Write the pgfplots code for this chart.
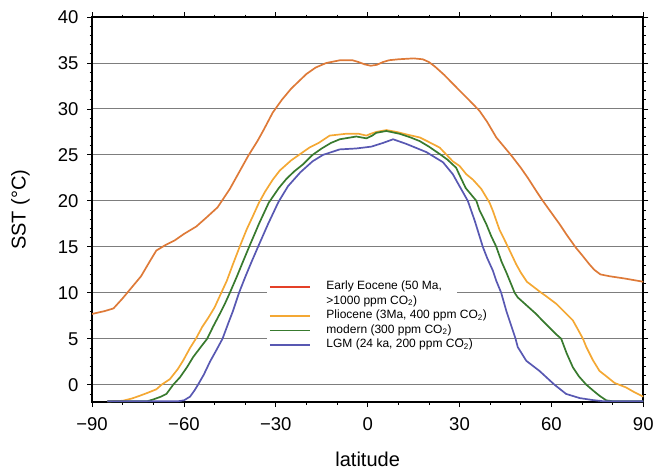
\documentclass[border=0pt]{standalone}
\usepackage{pgfplots}
\pgfplotsset{compat=1.18}
\usepackage{fontspec}
\setmainfont{Liberation Sans}
\definecolor{eoc}{RGB}{222,122,56}
\definecolor{eocleg}{RGB}{228,64,40}
\definecolor{plio}{RGB}{244,168,52}
\definecolor{mod}{RGB}{56,122,46}
\definecolor{lgm}{RGB}{88,88,178}
\definecolor{gridc}{RGB}{125,125,125}

\pgfplotstableread{
lat sst
-90 7.7
-86 8.0
-83 8.3
-80 9.4
-77 10.6
-74 11.8
-71 13.5
-69 14.6
-66 15.2
-63 15.7
-60 16.4
-56 17.2
-52.6 18.2
-49 19.3
-47 20.3
-45 21.3
-43 22.5
-39 24.9
-36 26.5
-34 27.7
-31 29.6
-28 31.0
-25 32.2
-20 33.8
-17 34.5
-13.5 35.0
-9 35.3
-5 35.3
-3 35.1
-1 34.85
1 34.7
3 34.8
5 35.1
7 35.3
10 35.4
15 35.5
18 35.4
20 35.1
22 34.6
25 33.7
30 32.0
33 31.0
36.5 29.8
39 28.6
42 26.9
45 25.7
47 24.9
50 23.6
52.3 22.5
55 21.1
57.2 20.0
60 18.7
62.6 17.5
65 16.3
68 14.9
70 14.1
72.4 13.1
74 12.5
76 12.0
79 11.8
84 11.55
90 11.2
}\eocene

\pgfplotstableread{
lat sst
-85 -1.8
-80 -1.75
-77 -1.5
-74.4 -1.2
-72 -0.9
-69 -0.5
-67.3 0.0
-64.6 0.6
-62 1.7
-60.3 2.6
-58 4.0
-56.1 5.0
-54 6.3
-52 7.3
-50 8.4
-47.8 10.0
-46 11.3
-44 13.1
-41.8 15.0
-39.5 16.9
-37.4 18.4
-35.5 19.8
-33.5 21.0
-31 22.3
-28.7 23.3
-25 24.4
-22 25.1
-19 25.8
-16 26.3
-12.4 27.1
-7 27.3
-3 27.3
-0.4 27.1
1 27.3
2.8 27.5
6.1 27.7
9.4 27.5
13 27.2
17 26.9
20 26.4
23.5 25.8
27.8 24.3
30 23.8
32.2 22.9
34.4 22.3
37.1 21.3
39.8 19.8
40.9 18.9
43 16.9
45.8 15.0
48.5 13.1
50 12.2
52 11.2
56.7 10.0
58 9.7
61.6 8.8
64 8.0
67 7.0
69 5.8
70.3 5.0
71.4 4.1
73.5 2.7
75.7 1.5
78 0.9
80.6 0.2
84.4 -0.3
87 -0.8
90 -1.3
}\pliocene

\pgfplotstableread{
lat sst
-85 -1.8
-72 -1.8
-70 -1.6
-67.5 -1.3
-65.7 -1.0
-63.5 0.0
-61.3 0.8
-59 1.9
-57 3.0
-54.5 4.1
-52.4 5.0
-50.5 6.3
-48.3 7.7
-46.5 8.9
-45 10.0
-42.8 11.7
-40.7 13.4
-38.7 15.0
-35.5 17.5
-32.3 19.8
-29 21.4
-26.5 22.4
-24 23.2
-21 24.0
-18 25.0
-15 25.7
-12 26.3
-9.1 26.7
-3.7 27.0
-0.4 26.8
1.5 27.1
2.8 27.4
6.1 27.6
10.4 27.3
14 26.9
17 26.5
20 25.9
23.5 25.1
26 24.5
28.9 23.6
30 22.8
32 21.4
35.5 20.0
36.5 19.0
38.7 17.5
40.3 16.2
42 15.0
43.7 13.4
45.3 12.2
48 10.0
49 9.5
52 8.6
55 7.7
57 7.0
59.4 6.2
61.5 5.5
63.2 5.0
65 3.4
67 1.9
69 0.9
71.4 0.0
73.5 -0.6
75.7 -1.2
77.9 -1.7
80 -1.8
90 -1.8
}\modern

\pgfplotstableread{
lat sst
-85 -1.8
-62 -1.8
-60 -1.7
-58 -1.3
-56.5 -0.6
-55.4 0.0
-53.5 1.1
-51.5 2.5
-49.5 3.7
-47.4 5.0
-45.5 6.7
-44 8.0
-42 10.0
-40 11.7
-38 13.3
-35.8 15.0
-32.5 17.5
-29.1 19.9
-26 21.6
-22 23.1
-18 24.3
-14.6 25.0
-9.1 25.6
-3.7 25.7
1.2 25.9
5 26.3
8.3 26.7
12.6 26.2
19.2 25.3
24.6 24.2
27.8 22.9
32.7 20.0
35 17.8
37.6 15.0
39 13.8
40.9 12.4
42 11.3
43.6 10.0
45.3 8.0
48.3 5.0
49 4.1
51.8 2.6
56.1 1.5
61 0.0
64.8 -1.0
69.2 -1.45
73.5 -1.67
77 -1.8
90 -1.8
}\lgm

\begin{document}
\begin{tikzpicture}
\useasboundingbox (-92pt,-72.3pt) rectangle (561.7pt,402pt);
\begin{axis}[
  scale only axis, width=551pt, height=385pt,
  at={(0,0)}, anchor=south west,
  xmin=-90, xmax=90, ymin=-1.9, ymax=40,
  xtick={-90,-60,...,90},
  xticklabels={−90,−60,−30,0,30,60,90},
  minor xtick={-80,-70,-50,-40,-20,-10,10,20,40,50,70,80},
  ytick={0,5,...,40},
  minor ytick={-1,0,...,40},
  tick align=outside,
  major tick length=5pt, minor tick length=2.5pt,
  every tick/.style={black, line width=0.8pt},
  axis line style={line width=1.8pt},
  ymajorgrids, grid style={gridc, line width=0.9pt},
  tick label style={font=\fontsize{18.5}{20}\selectfont},
  /pgf/number format/assume math mode=true,
  xticklabel style={yshift=-7pt},
  yticklabel style={xshift=-5pt},
  xlabel={latitude}, ylabel={SST (°C)},
  label style={font=\fontsize{20}{22}\selectfont},
  xlabel style={at={(axis description cs:0.5,-0.166)}, anchor=base},
  ylabel style={at={(axis description cs:-0.13,0.5)}, anchor=center},
  legend cell align=left,
  legend style={at={(axis cs:-33,11.7)}, anchor=north west, draw=none, fill=white,
    inner xsep=2pt, inner ysep=3pt, row sep=1.4pt,
    font=\fontsize{12}{14}\selectfont,
    nodes={inner sep=0.8pt, text height=8.5pt, text depth=3pt}},
  legend image code/.code={\draw[#1] (1pt,0pt) -- (41pt,0pt); \path (56pt,0pt);},
]
\addplot[eoc, line width=1.7pt, forget plot] table[x=lat, y=sst] {\eocene};
\addplot[plio, line width=1.7pt, forget plot] table[x=lat, y=sst] {\pliocene};
\addplot[mod, line width=1.7pt, forget plot] table[x=lat, y=sst] {\modern};
\addplot[lgm, line width=1.7pt, forget plot] table[x=lat, y=sst] {\lgm};
\addlegendimage{eocleg, line width=1.7pt}
\addlegendentry{Early Eocene (50 Ma,}
\addlegendimage{empty legend}
\addlegendentry{>1000 ppm CO\textsubscript{2})}
\addlegendimage{plio, line width=1.7pt}
\addlegendentry{\makebox[128pt][l]{Pliocene (3Ma, 400 ppm CO\textsubscript{2})}}
\addlegendimage{mod, line width=1.7pt}
\addlegendentry{modern (300 ppm CO\textsubscript{2})}
\addlegendimage{lgm, line width=1.7pt}
\addlegendentry{\makebox[128pt][l]{LGM (24 ka, 200 ppm CO\textsubscript{2})}}
\end{axis}
\end{tikzpicture}
\end{document}
